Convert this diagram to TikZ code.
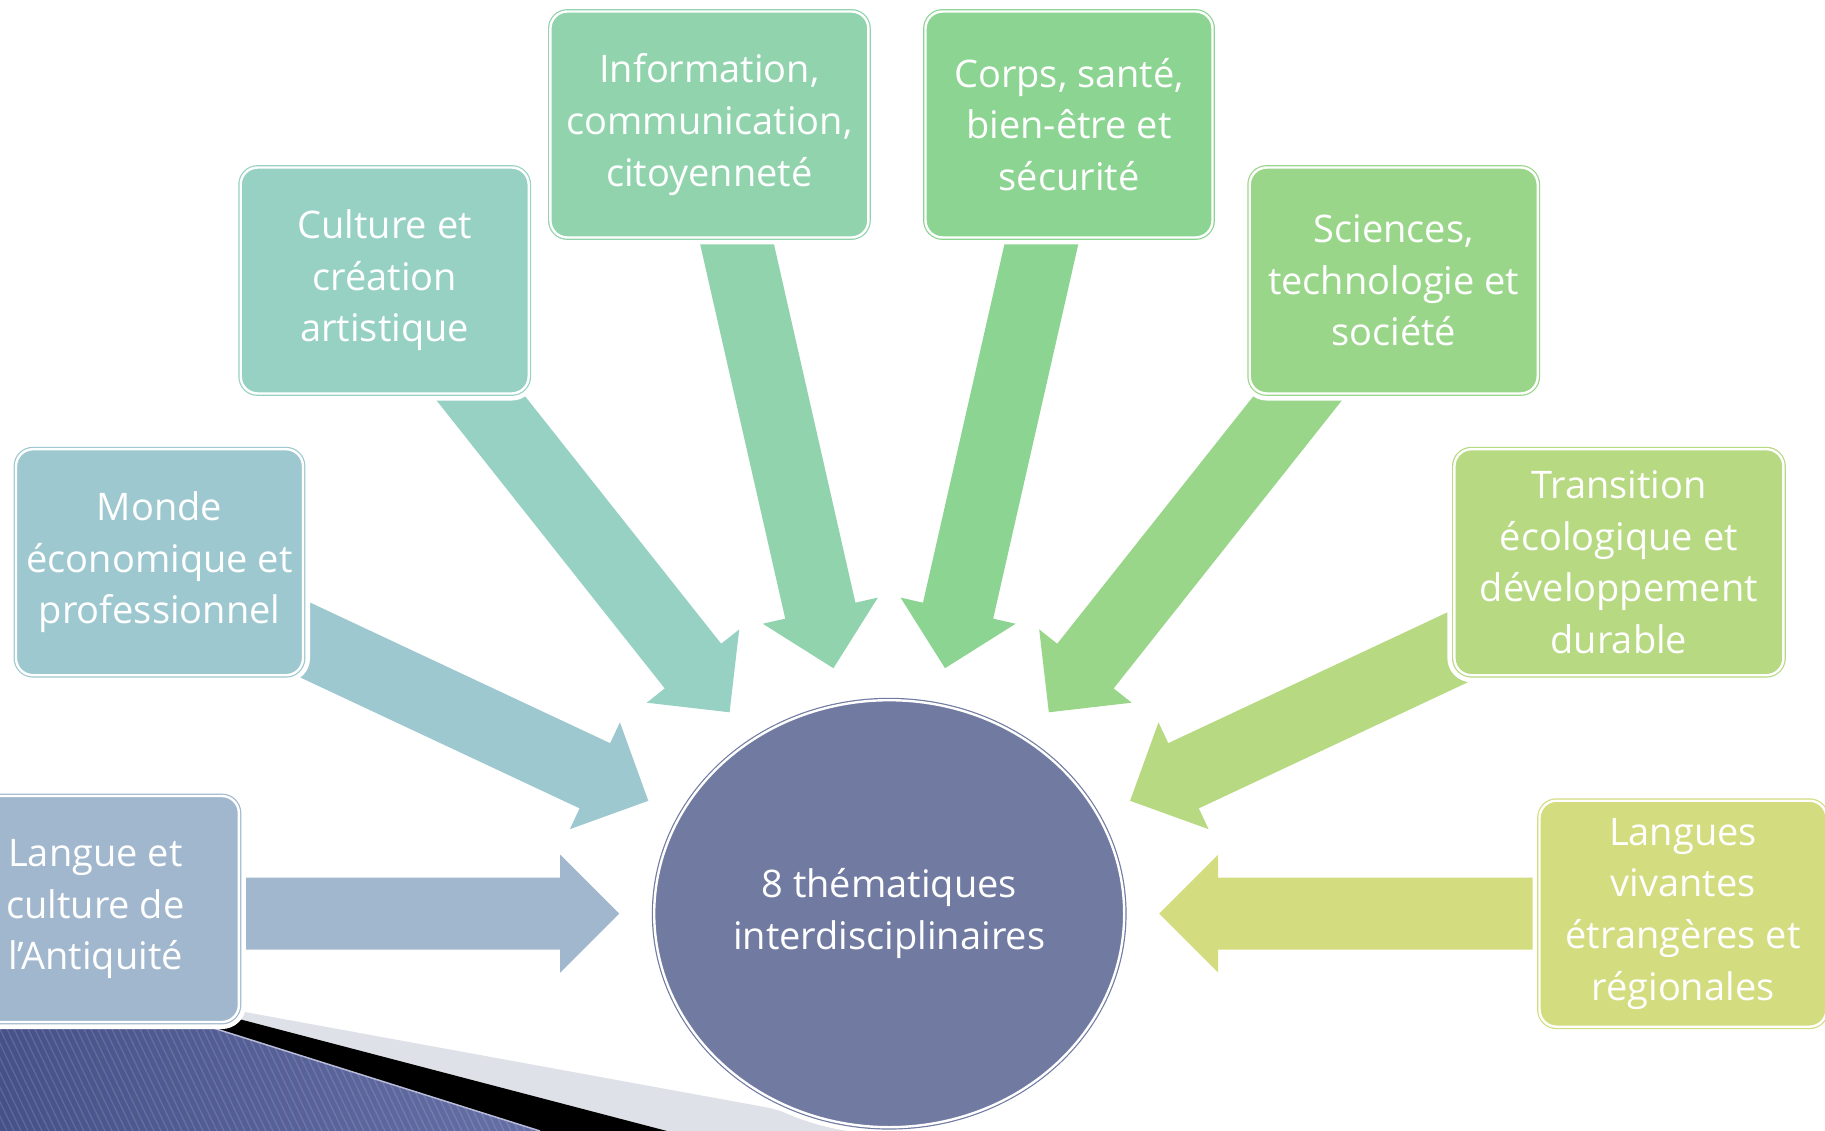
\documentclass[tikz,border=0pt]{standalone}
\usepackage{fontspec}
\setmainfont{Open Sans}
\usetikzlibrary{calc,shapes.geometric}
\definecolor{cA}{HTML}{A1B7CD}
\definecolor{cB}{HTML}{9DC8CF}
\definecolor{cCu}{HTML}{97D1C3}
\definecolor{cD}{HTML}{91D3AD}
\definecolor{cE}{HTML}{8CD492}
\definecolor{cF}{HTML}{9AD68A}
\definecolor{cG}{HTML}{B6D982}
\definecolor{cH}{HTML}{D3DC7E}
\definecolor{cCirc}{HTML}{717BA2}
\definecolor{grayband}{HTML}{DFE1E8}
\definecolor{stripeL}{HTML}{465189}
\definecolor{stripeM}{HTML}{8890C2}
\definecolor{stripeR}{HTML}{6670A6}
\newcommand\blockarrow[3]{%
  \coordinate (hb) at ($(#3)!59pt!(#2)$);
  \fill[#1] (#3)
    -- ($(hb)!59pt!90:(#2)$)
    -- ($(hb)!36pt!90:(#2)$)
    -- ($(#2)!36pt!-90:(#3)$)
    -- ($(#2)!36pt!90:(#3)$)
    -- ($(hb)!36pt!-90:(#2)$)
    -- ($(hb)!59pt!-90:(#2)$)
    -- cycle;
}
\begin{document}
\begin{tikzpicture}[x=1pt,y=-1pt,
  txt/.style={text=white, align=center, inner sep=0pt, font=\fontsize{38}{51.6}\selectfont},
  halo/.style={preaction={draw=white, line width=14pt}},
  dbl/.style={draw=#1, fill=#1, line width=1.2pt, double=white, double distance=2.4pt},
  box/.style={txt, halo, rounded corners=17pt, minimum height=226pt, minimum width=#1}
]
\useasboundingbox (0,0) rectangle (1825,1131);

% bottom-left decoration
\fill[grayband] (0,1003.8) -- (200,1003.8) -- (770,1108) -- (850,1131) -- (0,1131) -- cycle;
\fill[black] (0,1008.8) -- (200,1008.8) -- (667,1131) -- (0,1131) -- cycle;
\shade[left color=stripeL, middle color=stripeM, right color=stripeR]
  (0,1027) -- (210,1027) -- (540,1131) -- (0,1131) -- cycle;
\begin{scope}
  \clip (0,1027) -- (210,1027) -- (540,1131) -- (0,1131) -- cycle;
  \foreach \x in {-120,-113,...,560}
    \draw[white, opacity=.13, line width=1.3pt] (\x,1027) -- (\x+50,1131);
\end{scope}
\draw[draw=stripeM!60!white, line width=1.5pt] (210,1027) -- (540,1131);

% central circle
\node[ellipse, txt, halo, dbl=cCirc, minimum width=470pt, minimum height=427pt]
  (c) at (889.2,913.7) {8 thématiques\\interdisciplinaires};

% arrow tips
\coordinate (p1) at (619.2,913.7);
\coordinate (p2) at (648.3,800.8);
\coordinate (p3) at (729.6,712.3);
\coordinate (p4) at (833.4,668.2);
\coordinate (p5) at (945.0,668.2);
\coordinate (p6) at (1048.8,712.3);
\coordinate (p7) at (1130.1,800.8);
\coordinate (p8) at (1159.2,913.7);
% arrow tails (hidden under boxes)
\foreach \i in {1,...,8}
  \coordinate (q\i) at ($(c.center)!740pt!(p\i)$);

\blockarrow{cA}{q1}{p1}
\blockarrow{cB}{q2}{p2}
\blockarrow{cCu}{q3}{p3}
\blockarrow{cD}{q4}{p4}
\blockarrow{cE}{q5}{p5}
\blockarrow{cF}{q6}{p6}
\blockarrow{cG}{q7}{p7}
\blockarrow{cH}{q8}{p8}

% boxes
\node[box=287pt, dbl=cA] (b1) at (95.4,909.0) {Langue et\\culture de\\l’Antiquité};
\node[box=287pt, dbl=cB] (b2) at (159.5,562.2) {Monde\\économique et\\professionnel};
\node[box=288pt, dbl=cCu] (b3) at (384.7,280.5) {Culture et\\création\\artistique};
\node[box=318pt, dbl=cD] (b4) at (709.4,124.5) {Information,\\communication,\\citoyenneté};
\node[box=287pt, dbl=cE] (b5) at (1069.0,124.5) {Corps, santé,\\bien-être et\\sécurité};
\node[box=288pt, dbl=cF] (b6) at (1393.7,280.5) {Sciences,\\technologie et\\société};
\node[box=329pt, dbl=cG] (b7) at (1618.9,562.2) {Transition\\écologique et\\développement\\durable};
\node[box=287pt, dbl=cH] (b8) at (1683.0,913.7) {Langues\\vivantes\\étrangères et\\régionales};
\end{tikzpicture}
\end{document}
